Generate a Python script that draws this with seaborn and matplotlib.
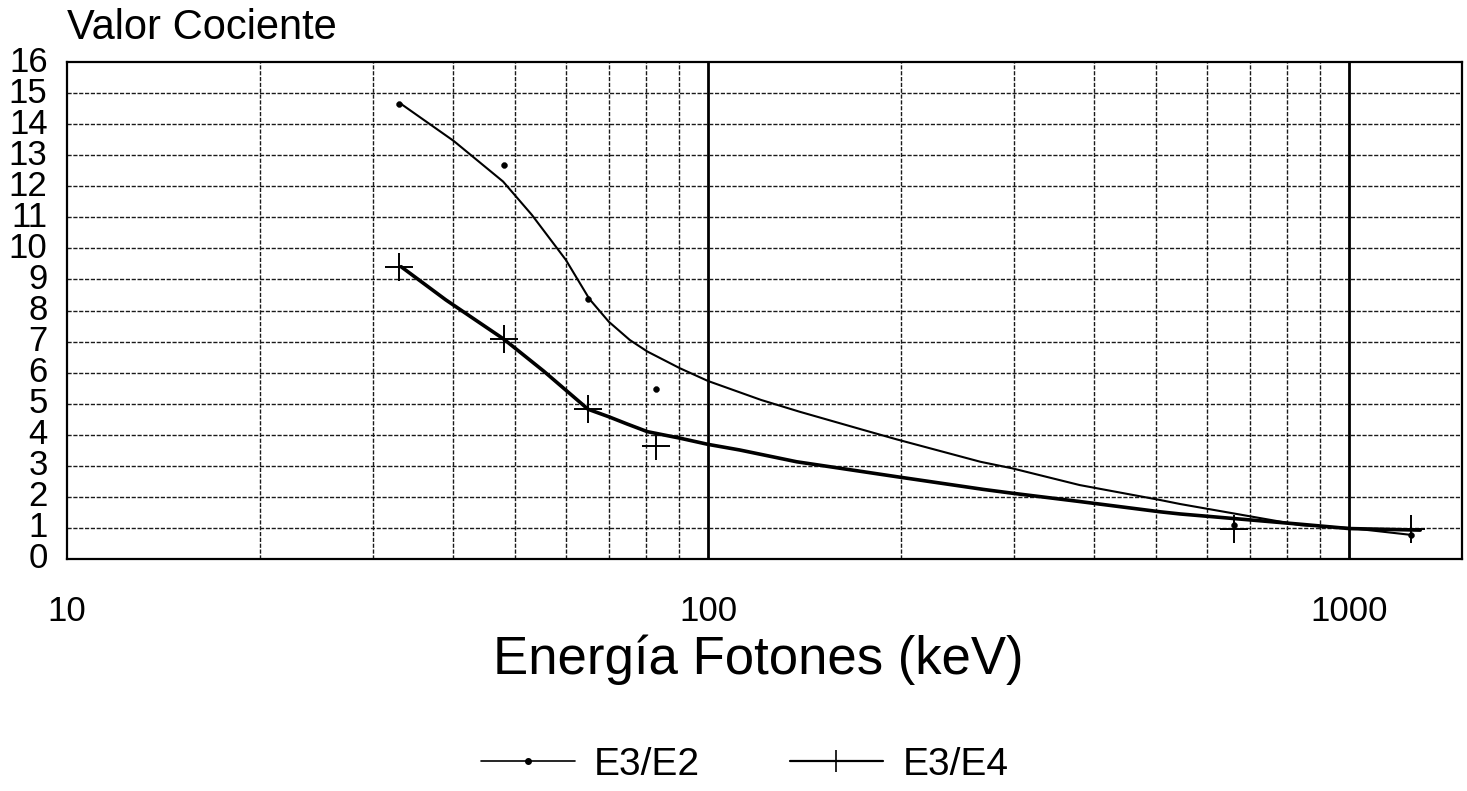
import numpy as np
import pandas as pd
import matplotlib
matplotlib.use("Agg")
import matplotlib.pyplot as plt
from matplotlib.lines import Line2D
from matplotlib.ticker import FixedLocator, NullFormatter
import seaborn as sns

# ---- data ----
energy_pts = [33, 48, 65, 83, 662, 1250]
e3e2_pts = [14.65, 12.70, 8.37, 5.48, 1.10, 0.77]
e3e4_pts = [9.41, 7.08, 4.82, 3.65, 0.96, 0.96]

# smooth fitted curves
e3e2_curve_x = [33.2, 40.1, 47.9, 53.1, 60, 65.3, 70, 75.5, 80.4, 90.4, 100, 121, 139, 175, 197, 266, 298, 380, 507, 545, 839, 1000, 1257]
e3e2_curve_y = [14.65, 13.46, 12.15, 11.08, 9.63, 8.37, 7.64, 7.05, 6.68, 6.14, 5.73, 5.12, 4.74, 4.15, 3.85, 3.13, 2.92, 2.38, 1.90, 1.77, 1.09, 1.00, 0.77]
e3e4_curve_x = [33.2, 39, 48, 55.4, 65, 70, 74.7, 80.4, 90.4, 100, 112, 137.5, 196.8, 268.9, 297.7, 380, 507, 545, 839, 1000, 1291]
e3e4_curve_y = [9.41, 8.34, 7.08, 6.05, 4.82, 4.58, 4.35, 4.10, 3.89, 3.69, 3.51, 3.13, 2.65, 2.24, 2.12, 1.85, 1.52, 1.45, 1.12, 0.98, 0.93]

xtick_vals = [10, 100, 1000]
xtick_labels = ["10", "100", "1000"]
ytick_vals = list(range(0, 17))
series_names = ["E3/E2", "E3/E4"]

# ---- plotting ----
sns.set_theme(style="white")
plt.rcParams['font.family'] = ['Liberation Sans', 'DejaVu Sans']
plt.rcParams['text.color'] = 'black'

W, H = 1467, 791
fig = plt.figure(figsize=(W / 100, H / 100), dpi=100)
ax = fig.add_axes([67 / W, 1 - 559 / H, (1462 - 67) / W, (559 - 62) / H])

ax.set_xscale("log")
ax.set_xlim(10, 1500)
ax.set_ylim(0, 16)

# grid
grid_ls = (0, (3, 1.2))
minor_x = [v * d for d in (10, 100) for v in range(2, 10) if v * d < 1500]
for xv in minor_x:
    ax.axvline(xv, color="#1a1a1a", lw=1.0, ls=grid_ls, zorder=1)
for xv in (100, 1000):
    ax.axvline(xv, color="black", lw=2.0, zorder=1)
for yv in ytick_vals[1:-1]:
    ax.axhline(yv, color="#1a1a1a", lw=1.0, ls=grid_ls, zorder=1)

c2 = pd.DataFrame({"x": e3e2_curve_x, "y": e3e2_curve_y})
c4 = pd.DataFrame({"x": e3e4_curve_x, "y": e3e4_curve_y})
sns.lineplot(data=c2, x="x", y="y", ax=ax, color="black", lw=1.5, sort=False, estimator=None, zorder=3)
sns.lineplot(data=c4, x="x", y="y", ax=ax, color="black", lw=2.6, sort=False, estimator=None, zorder=3)

p = pd.DataFrame({"x": energy_pts, "a": e3e2_pts, "b": e3e4_pts})
sns.scatterplot(data=p, x="x", y="a", ax=ax, color="black", marker="o", s=18, edgecolor="black", zorder=4)
sns.scatterplot(data=p, x="x", y="b", ax=ax, color="black", marker="+", s=380, linewidth=1.4, zorder=4)

ax.xaxis.set_major_locator(FixedLocator(xtick_vals))
ax.set_xticklabels(xtick_labels)
ax.xaxis.set_minor_locator(FixedLocator(minor_x))
ax.xaxis.set_minor_formatter(NullFormatter())
ax.set_yticks(ytick_vals)
ax.set_yticklabels([str(v) for v in ytick_vals])

ax.tick_params(axis="x", which="both", direction="in", length=10, width=1.5, pad=26, labelsize=25, colors="black")
ax.tick_params(axis="y", which="major", direction="in", length=12, width=1.5, pad=14, labelsize=25, colors="black")
for lbl in ax.get_yticklabels():
    lbl.set_verticalalignment("center")

for s in ax.spines.values():
    s.set_visible(True)
    s.set_color("black")
    s.set_linewidth(1.6)

ax.set_xlabel("")
ax.set_ylabel("")

fig.text(67 / W, 1 - 28 / H, "Valor Cociente", fontsize=30, ha="left", va="center", color="black")
fig.text(758 / W, 1 - 660 / H, "Energía Fotones (keV)", fontsize=38, ha="center", va="center", color="black")

handles = [
    Line2D([], [], color="black", lw=1.2, marker="o", markersize=4),
    Line2D([], [], color="black", lw=1.6, marker="+", markersize=16, markeredgewidth=1.2),
]
leg = fig.legend(handles, series_names, loc="center", bbox_to_anchor=(745 / W, 1 - 765 / H), ncol=2,
                 frameon=False, fontsize=28, handlelength=2.4, handletextpad=0.5, columnspacing=2.3,
                 numpoints=1, labelcolor="black")

fig.savefig("out.png", dpi=100)
